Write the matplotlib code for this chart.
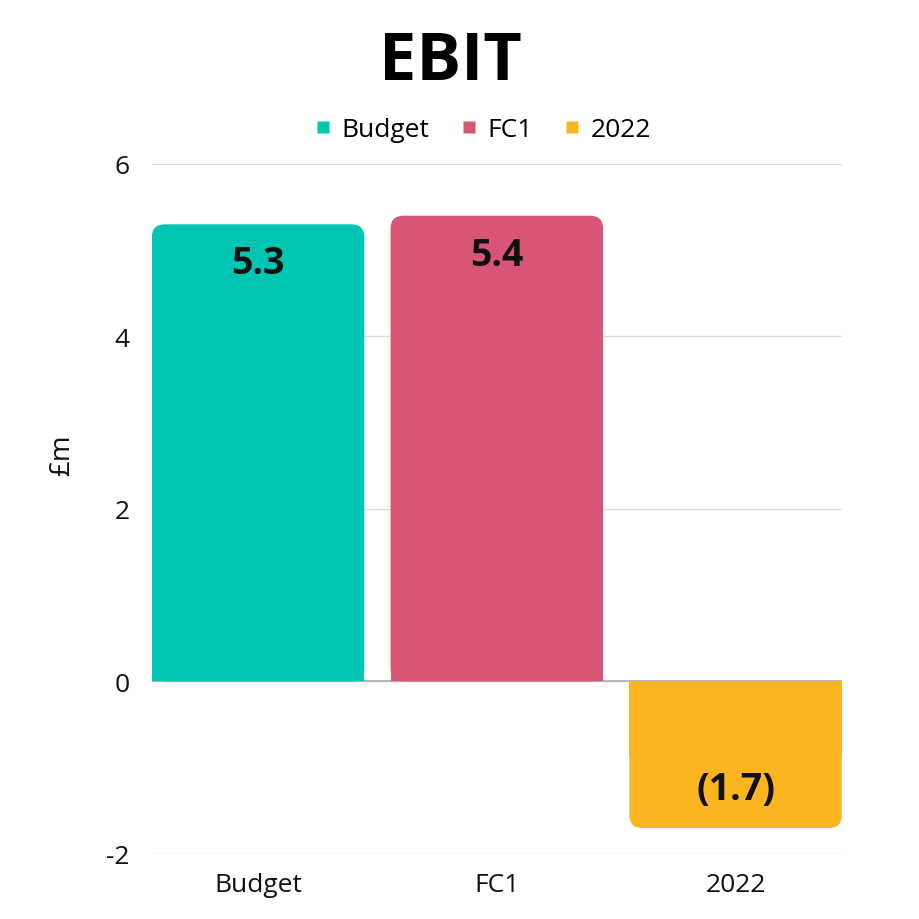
import matplotlib
matplotlib.use("Agg")
import matplotlib.pyplot as plt
from matplotlib.patches import FancyBboxPatch, Rectangle
from matplotlib.lines import Line2D

categories = ["Budget", "FC1", "2022"]
values = [5.3, 5.4, -1.7]
labels = ["5.3", "5.4", "(1.7)"]
colors = ["#00C5B2", "#D95574", "#FBB521"]
yticks = [-2, 0, 2, 4, 6]

plt.rcParams['font.family'] = ['Open Sans', 'DejaVu Sans']

fig = plt.figure(figsize=(9.2, 9.2), dpi=100)
ax = fig.add_axes([0.165, 0.0707, 0.75, 0.75])

width = 0.89
ax.set_xlim(-width / 2, len(categories) - 1 + width / 2)
ax.set_ylim(-2, 6)

# pixel scales for rounding
px_per_x = 0.75 * 920 / (len(categories) - 1 + width)
px_per_y = 0.75 * 920 / 8.0
r_px = 13
rx = r_px / px_per_x
aspect = px_per_x / px_per_y

bars = ax.bar(range(len(categories)), values, width=width, color=colors, zorder=3)
for b, c in zip(bars, colors):
    x0, y0 = b.get_x(), b.get_y()
    w, h = b.get_width(), b.get_height()
    ylo, hh = min(y0, y0 + h), abs(h)
    b.set_visible(False)
    fp = FancyBboxPatch((x0, ylo), w, hh,
                        boxstyle=f"round,pad=0,rounding_size={rx}",
                        mutation_aspect=aspect, facecolor=c, edgecolor='none', zorder=3)
    ax.add_patch(fp)
    # square the base corners
    if h >= 0:
        ax.add_patch(Rectangle((x0, 0), w, hh / 2, facecolor=c, edgecolor='none', zorder=3))
    else:
        ax.add_patch(Rectangle((x0, -hh / 2), w, hh / 2, facecolor=c, edgecolor='none', zorder=3))

for i, (v, lab) in enumerate(zip(values, labels)):
    sgn = 1 if v >= 0 else -1
    ax.annotate(lab, (i, v), xytext=(0, -sgn * 28), textcoords='offset points',
                ha='center', va='center', fontsize=27, fontweight='bold', color='#111111', zorder=5)

ax.set_yticks(yticks)
ax.set_yticklabels([str(t) for t in yticks])
ax.set_xticks(range(len(categories)))
ax.set_xticklabels(categories)
ax.tick_params(axis='both', length=0, labelsize=19, colors='#111111')
ax.tick_params(axis='y', pad=16)
ax.tick_params(axis='x', pad=13)
for s in ax.spines.values():
    s.set_visible(False)
ax.grid(axis='y', color='#DDDDDD', linewidth=1, zorder=0)
ax.set_axisbelow(True)
ax.axhline(0, color='#AAAAAA', linewidth=1.2, zorder=2)

ax.set_ylabel("£m", fontsize=20, color='#111111')
ax.yaxis.set_label_coords(-0.11, 0.58)

fig.text(0.49, 0.932, "EBIT", ha='center', va='center', fontsize=48, fontweight='bold', color='#000000')

handles = [Line2D([0], [0], marker='s', linestyle='none', markersize=8,
                  markerfacecolor=c, markeredgecolor='none') for c in colors]
fig.legend(handles, categories, loc='center', bbox_to_anchor=(0.522, 0.858), ncol=3,
           frameon=False, fontsize=19, handletextpad=0.2, columnspacing=1.0, handlelength=1.0)

fig.savefig("out.png", dpi=100, facecolor='white')
